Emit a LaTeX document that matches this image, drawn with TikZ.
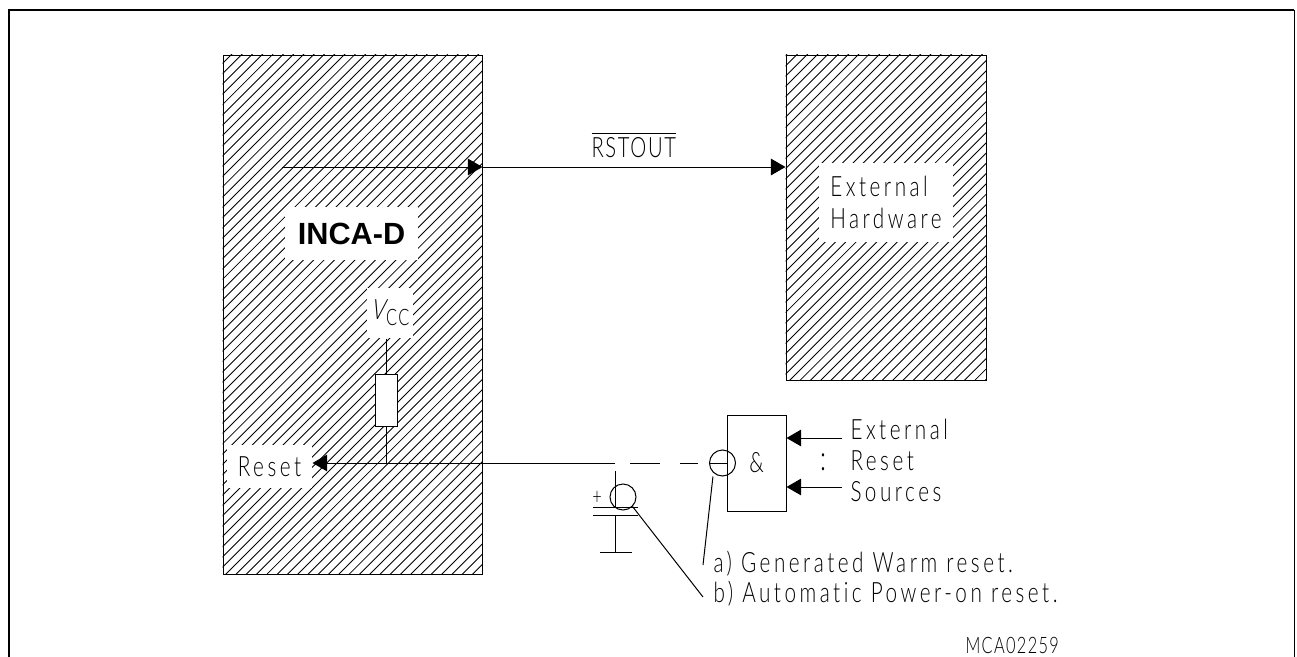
\documentclass[tikz,border=0pt]{standalone}
\usepackage{amsmath}
\usepackage{fontspec}
\usepackage{tikz}
\usetikzlibrary{arrows.meta,calc}
\newfontfamily\isofont[FakeStretch=0.74,LetterSpace=12.5,Ligatures=NoCommon]{Lato Light}
\newfontfamily\isocaps[FakeStretch=0.72,LetterSpace=6,Ligatures=NoCommon]{Lato Light}
\newfontfamily\isoslant[FakeStretch=0.74,FakeSlant=0.22]{Lato Light}
\newfontfamily\boldsans{Liberation Sans}

\begin{document}
\begin{tikzpicture}[
  x=0.75pt, y=-0.75pt, line width=0.75pt,
  frameline/.style={line width=1.5pt},
  hatched/.style={draw, rectangle, inner sep=0pt},
  hatchline/.style={line width=0.65pt},
  isotext/.style={font=\isofont\fontsize{21}{24}\selectfont, inner sep=0pt},
  whitebox/.style={isotext, fill=white, align=left},
  tag/.style={isotext, anchor=base west},
  ptr/.style={-{Triangle[length=11pt,width=12.5pt]}},
  bubble/.style={draw, circle, inner sep=0pt, minimum size=19.5pt},
  wire/.style={line width=0.75pt}
]
\useasboundingbox (0,0) rectangle (1297,657);
\draw[frameline] (9,657) -- (9,10) -- (1294,10);
\draw[wire] (1294,10) -- (1294,657);

\node[hatched, minimum width=194.25pt, minimum height=389.25pt] (inca) at (352.5,314.5) {};
\node[hatched, minimum width=150pt, minimum height=243.75pt] (hw) at (886,217.5) {};
\foreach \blk in {inca,hw} {
  \begin{scope}
    \clip (\blk.south west) rectangle (\blk.north east);
    \foreach \n in {-52,...,56}
      \draw[hatchline] ({800+10.28*\n},0) -- (0,{800+10.28*\n});
  \end{scope}
}

\coordinate (rstin) at (282,167);
\draw[ptr] (rstin) -- (rstin -| inca.east);
\draw[ptr] (rstin -| inca.east) -- (rstin -| hw.west);
\node[tag] (rstout) at (591,157) {$\overline{\hbox{\isocaps\fontsize{21}{24}\selectfont RSTOUT}}$};

\node[whitebox, minimum width=100.5pt, minimum height=59.25pt] (hwlabel) at (886,202.5) {External\\Hardware};
\node[fill=white, minimum width=99.75pt, minimum height=39.75pt, inner sep=0pt, font=\boldsans\bfseries\fontsize{23}{24}\selectfont] (incalabel) at (351.5,233.5) {INCA-D};
\node[whitebox, minimum width=34.5pt, minimum height=37.5pt] (vcc) at (390,313) {\isoslant V\kern1.5pt\raisebox{-4.5pt}{\isocaps\fontsize{17}{18}\selectfont CC}};
\node[whitebox, minimum width=63.75pt, minimum height=32.25pt] (resetlabel) at (269.5,466.5) {Reset};

\node[draw, fill=white, minimum width=16.5pt, minimum height=39pt, inner sep=0pt] (resistor) at (386,400) {};
\coordinate (solidend) at (615,463);
\coordinate (junction) at (resistor.south |- solidend);
\coordinate (dashstart) at (630,463);
\coordinate (dashend) at (698,463);
\draw[wire] (vcc.south -| resistor.north) -- (resistor.north);
\draw[wire] (resistor.south) -- (junction);
\draw[ptr] (solidend) -- (solidend -| resetlabel.east);
\draw[wire, dash pattern=on 22.5pt off 15pt] (dashstart) -- (dashend);

\node[draw, minimum width=44.25pt, minimum height=72pt, inner sep=0pt, isotext] (gate) at (756.5,463) {\&};
\node[bubble] (warm) at (722.5,463) {};
\draw[wire] (warm.west) -- (warm.west -| gate.west);

\coordinate (exttop) at (842,438);
\coordinate (extbot) at (842,487);
\draw[ptr] (exttop) -- (exttop -| gate.east);
\draw[ptr] (extbot) -- (extbot -| gate.east);
\node[isotext, font=\isocaps\fontsize{26}{28}\selectfont] (dots) at (823,462) {:};
\node[tag] (ext1) at (850,439) {External};
\node[tag] (ext2) at (850,470) {Reset};
\node[tag] (ext3) at (850,501) {Sources};

\node[bubble] (power) at (623,497) {};
\coordinate (plustop) at (615.5,471);
\coordinate (plate1) at (615.5,507);
\coordinate (plate2) at (615.5,515);
\coordinate (gnd) at (615.5,552);
\draw[wire] (plustop) -- (plate1);
\draw[wire] (593,507) -- (638,507);
\draw[wire] (593,515) -- (638,515);
\draw[wire] (plate2) -- (gnd);
\draw[wire] (600,552) -- (632,552);
\node[isotext, font=\isocaps\fontsize{17}{18}\selectfont] (plus) at (597,498) {+};

\node[tag] (warmtext) at (713,572) {a) Generated Warm reset.};
\node[tag] (powertext) at (713,602) {b) Automatic Power-on reset.};
\coordinate (warmend) at (703,565);
\coordinate (powerend) at (703,597);
\draw[wire] (warm.south west |- warm.south) -- (warmend);
\draw[wire] (power.south east) -- (powerend);

\node[tag, font=\isocaps\fontsize{17}{18}\selectfont] (code) at (965,653) {MCA02259};
\end{tikzpicture}
\end{document}
